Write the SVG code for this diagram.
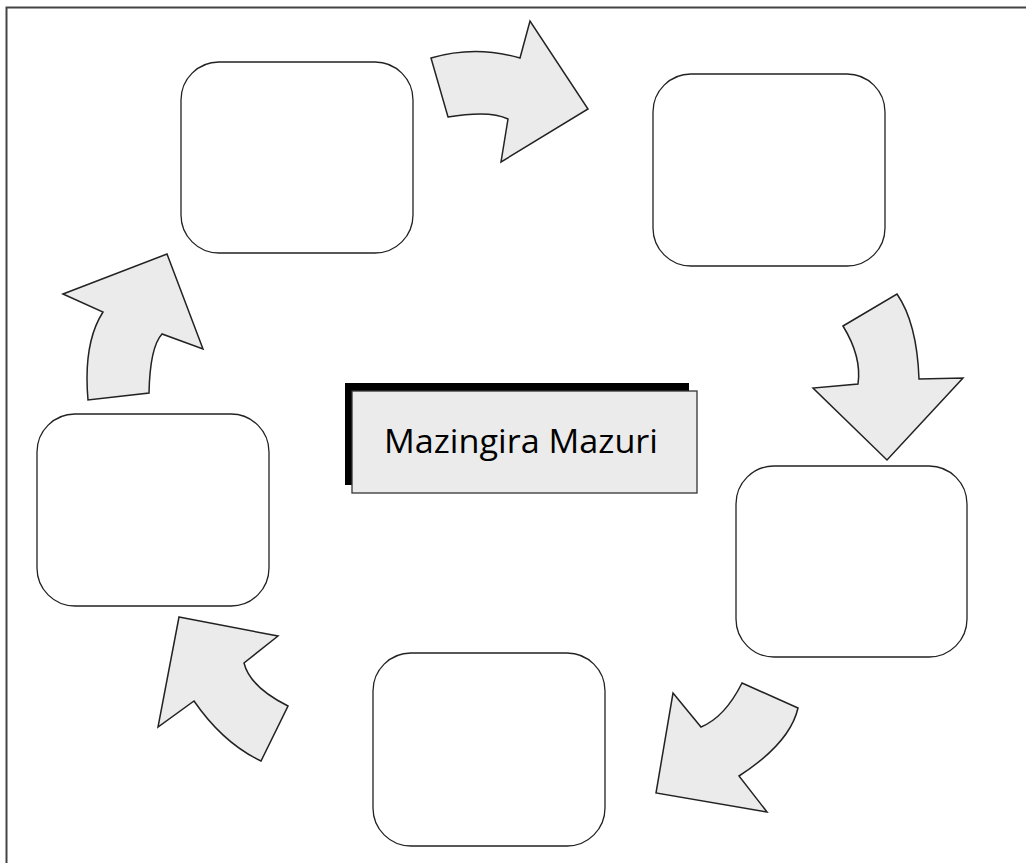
<svg xmlns="http://www.w3.org/2000/svg" width="1026" height="863" viewBox="0 0 1026 863">
<style>
.box{fill:#fff;stroke:#222;stroke-width:1.3}
.arr{fill:#ebebeb;stroke:#222;stroke-width:1.5;stroke-linejoin:miter}
.lbl{font-family:"Open Sans","Noto Sans",sans-serif;font-size:33px;fill:#000}
</style>
<rect x="0" y="0" width="1026" height="863" fill="#fff"/>
<rect x="6.5" y="7.5" width="1100" height="900" fill="none" stroke="#444" stroke-width="2"/>
<g id="node1"><rect class="box" x="181" y="62" width="232" height="191" rx="38"/></g>
<g id="node2"><rect class="box" x="653" y="74" width="232" height="192" rx="38"/></g>
<g id="node3"><rect class="box" x="736" y="466" width="231" height="191" rx="38"/></g>
<g id="node4"><rect class="box" x="373" y="653" width="232" height="193" rx="38"/></g>
<g id="node5"><rect class="box" x="37" y="414" width="232" height="192" rx="38"/></g>
<g id="center">
<rect x="345" y="383" width="344" height="102" fill="#000"/>
<rect x="352" y="391" width="345" height="102" fill="#ebebeb" stroke="#333" stroke-width="1.3"/>
<text class="lbl" x="521" y="453" text-anchor="middle" textLength="274" lengthAdjust="spacingAndGlyphs">Mazingira Mazuri</text>
</g>
<g id="connectors">
<path class="arr" d="M431,58 Q475,45 520,58 L530,21 L588,109 L501,162 L508,119 Q490,110 448,117 Z"/>
<path class="arr" d="M843,326 L897,294 Q917,323 919,379 L963,378 L887,460 L813,388 L858,384 Q862,357 843,326 Z"/>
<path class="arr" d="M742,683 L798,708 Q790,743 739,776 L767,812 L656,793 L673,693 L701,727 Q725,717 742,683 Z"/>
<path class="arr" d="M179,617 L278,636 L244,663 Q250,687 288,706 L261,761 Q223,743 194,701 L158,727 Z"/>
<path class="arr" d="M63,294 L167,254 L203,349 L162,334 Q150,347 149,393 L88,400 Q83,343 103,312 Z"/>
</g>
</svg>
